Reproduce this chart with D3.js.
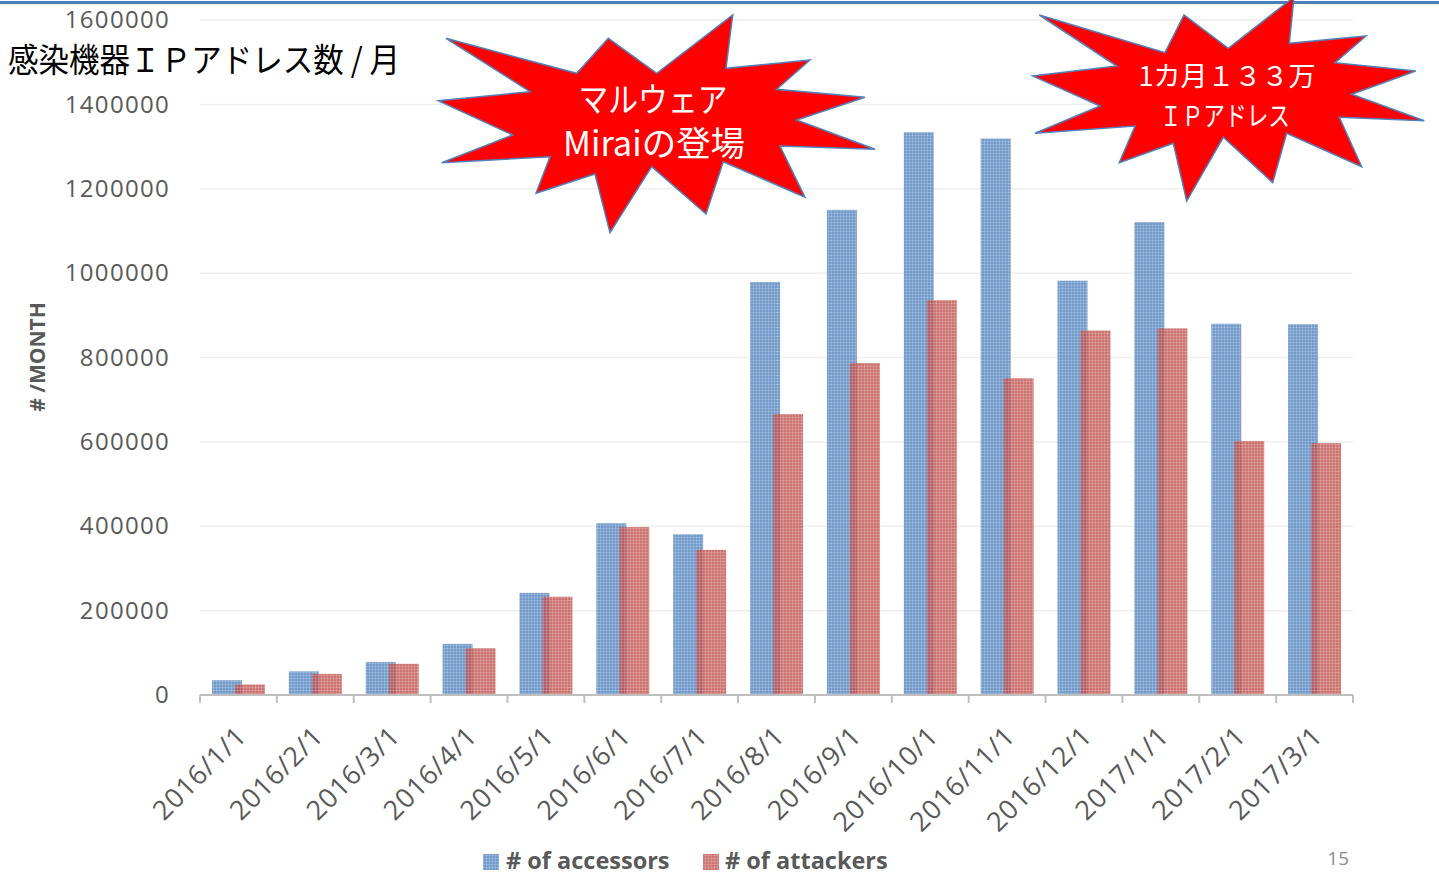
<!DOCTYPE html>
<html>
<head>
<meta charset="utf-8">
<script src="https://cdn.jsdelivr.net/npm/d3@7"></script>
<style>
  html, body { margin: 0; padding: 0; background: #fff; }
  svg { display: block; }
</style>
</head>
<body>
<svg id="chart" width="1439" height="875"></svg>
<script>
// Monthly counts of infected-device IP addresses
const categories = ["2016/1/1", "2016/2/1", "2016/3/1", "2016/4/1", "2016/5/1", "2016/6/1", "2016/7/1",
  "2016/8/1", "2016/9/1", "2016/10/1", "2016/11/1", "2016/12/1", "2017/1/1", "2017/2/1", "2017/3/1"];
const accessors = [35000, 56000, 78000, 121000, 242000, 407000, 381000,
  979000, 1150000, 1334000, 1319000, 982000, 1121000, 880000, 879000];
const attackers = [25000, 50000, 74000, 111000, 233000, 398000, 344000,
  666000, 787000, 936000, 751000, 864000, 869000, 602000, 597000];
const yTicks = [0, 200000, 400000, 600000, 800000, 1000000, 1200000, 1400000, 1600000];
const seriesNames = ["# of accessors", "# of attackers"];

const svg = d3.select("#chart");
const W = 1439, H = 875;
const plot = { left: 200, right: 1353, top: 20, bottom: 695 };
const gray = "#595959";
const numFont = "'Open Sans', 'Liberation Sans', sans-serif";
const jpFont = "'Noto Sans CJK JP', 'Noto Sans', sans-serif";

// Fine grid texture for the bars
const defs = svg.append("defs");
function gridPattern(id, color) {
  const p = defs.append("pattern").attr("id", id)
    .attr("patternUnits", "userSpaceOnUse").attr("width", 3).attr("height", 3);
  p.append("rect").attr("width", 3).attr("height", 3).attr("fill", color);
  p.append("rect").attr("width", 3).attr("height", 1).attr("fill", "#fff").attr("opacity", 0.18);
  p.append("rect").attr("width", 1).attr("height", 3).attr("fill", "#fff").attr("opacity", 0.18);
}
gridPattern("patBlue", "#4f81bd");
gridPattern("patRed", "#c0504d");

const x = d3.scaleBand().domain(categories).range([plot.left, plot.right]).padding(0);
const y = d3.scaleLinear().domain([0, 1600000]).range([plot.bottom, plot.top]);
const bw = x.bandwidth();

// Horizontal gridlines
svg.append("g").selectAll("line").data(yTicks.slice(1)).join("line")
  .attr("x1", plot.left).attr("x2", plot.right)
  .attr("y1", d => y(d)).attr("y2", d => y(d))
  .attr("stroke", "#eeeeee").attr("stroke-width", 1.5);

// Y axis labels
const yAxis = svg.append("g").attr("transform", `translate(${plot.left - 30},0)`)
  .call(d3.axisLeft(y).tickValues(yTicks).tickSize(0).tickPadding(0).tickFormat(d3.format("d")));
yAxis.select(".domain").remove();
yAxis.selectAll("text").attr("fill", gray).attr("font-size", 24)
  .attr("font-family", numFont).attr("letter-spacing", 1.3);

// Bars: accessors then attackers, overlapping slightly
const series = [
  { name: seriesNames[0], values: accessors, fill: "url(#patBlue)", off: 0.156 },
  { name: seriesNames[1], values: attackers, fill: "url(#patRed)", off: 0.455 }
];
series.forEach(s => {
  svg.append("g").selectAll("rect").data(categories).join("rect")
    .attr("x", (c) => x(c) + bw * s.off)
    .attr("width", bw * 0.39)
    .attr("y", (c, i) => y(s.values[i]))
    .attr("height", (c, i) => y(0) - y(s.values[i]))
    .attr("fill", s.fill).attr("opacity", 0.8);
});

// X axis line with category separator ticks
svg.append("line").attr("x1", plot.left).attr("x2", plot.right)
  .attr("y1", plot.bottom).attr("y2", plot.bottom)
  .attr("stroke", "#bfbfbf").attr("stroke-width", 2);
const bounds = categories.map(c => x(c)).concat([plot.right]);
svg.append("g").selectAll("line").data(bounds).join("line")
  .attr("x1", d => d).attr("x2", d => d)
  .attr("y1", plot.bottom).attr("y2", plot.bottom + 8)
  .attr("stroke", "#bfbfbf").attr("stroke-width", 2);

// Rotated category labels
svg.append("g").selectAll("text").data(categories).join("text")
  .attr("transform", c => `translate(${x(c) + bw / 2 + 3},${plot.bottom + 36}) rotate(-45)`)
  .attr("text-anchor", "end").attr("dy", "0.35em")
  .attr("fill", gray).attr("font-size", 27).attr("font-family", numFont)
  .attr("letter-spacing", 0.8)
  .text(c => c);

// Y axis title
svg.append("text")
  .attr("transform", `translate(45,357) rotate(-90)`)
  .attr("text-anchor", "middle").attr("fill", gray)
  .attr("font-size", 21).attr("font-weight", "bold").attr("font-family", numFont)
  .text("# /MONTH");

// Legend
const legend = svg.append("g");
[["url(#patBlue)", 483, 506, seriesNames[0]], ["url(#patRed)", 703, 725, seriesNames[1]]]
  .forEach(([f, sx, tx, label]) => {
    legend.append("rect").attr("x", sx).attr("y", 854).attr("width", 16).attr("height", 16)
      .attr("fill", f).attr("opacity", 0.8);
    legend.append("text").attr("x", tx).attr("y", 869).attr("fill", gray)
      .attr("font-size", 23.5).attr("font-weight", "bold").attr("font-family", numFont)
      .text(label);
  });

// Page number
svg.append("text").attr("x", 1349).attr("y", 865).attr("text-anchor", "end")
  .attr("fill", "#8c8c8c").attr("font-size", 19).attr("font-family", numFont).text("15");

// Header rule
svg.append("rect").attr("x", 0).attr("y", 1).attr("width", W).attr("height", 3).attr("fill", "#4a7ebb");

// Title
svg.append("text").attr("x", 8).attr("y", 72).attr("fill", "#000")
  .attr("font-size", 33).attr("font-family", jpFont)
  .attr("textLength", 392).attr("lengthAdjust", "spacingAndGlyphs")
  .text("感染機器ＩＰアドレス数 / 月");

// Starburst callouts
const burst1 = [[446,38.3],[576.7,73.3],[608.3,38.3],[656.7,73.3],[732.7,15],[726,68.3],[810,60],[776.7,89.3],
  [865,97.3],[796.7,120],[875,149.3],[780,146],[805,197.3],[723.3,161.7],[706,214],[651.7,166.7],
  [610,232.7],[595,174],[536,193.3],[550,156.7],[441.7,162.7],[512.7,135],[438.3,100.7],[530,91.7]];
const burst2 = [[1039.3,15],[1165,52.7],[1184,15],[1228.3,48.3],[1294,-3],[1289.3,43.3],[1366,36],[1335,62.7],
  [1415.7,71],[1351.7,94.3],[1424.3,120.7],[1339.3,117.3],[1361.7,166.7],[1286.7,133.3],[1272.7,182.7],
  [1223.3,137.3],[1186.7,201],[1173.3,143.3],[1119.3,162.7],[1135,126],[1035,133.3],[1100,106],
  [1032.7,76],[1116.7,66]];
[burst1, burst2].forEach(pts => {
  svg.append("path").attr("d", d3.line()(pts) + "Z")
    .attr("fill", "#ff0000").attr("stroke", "#4f81bd").attr("stroke-width", 1.5)
    .attr("stroke-linejoin", "miter");
});

function callText(cx, cy, str, size, len) {
  svg.append("text").attr("x", cx).attr("y", cy).attr("text-anchor", "middle")
    .attr("fill", "#fff").attr("font-size", size).attr("font-family", jpFont)
    .attr("textLength", len).attr("lengthAdjust", "spacingAndGlyphs")
    .text(str);
}
callText(653, 112, "マルウェア", 34, 149);
callText(654, 156, "Miraiの登場", 34, 182);
callText(1227, 86, "1カ月１３３万", 27, 177);
callText(1225, 126, "ＩＰアドレス", 27, 130);
</script>
</body>
</html>
